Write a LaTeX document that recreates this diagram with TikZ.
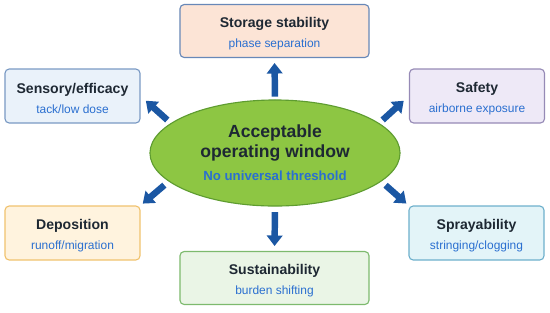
\documentclass[tikz,border=0pt]{standalone}
\usepackage{fontspec}
\setmainfont{Liberation Sans}
\usetikzlibrary{shapes.geometric, arrows.meta}

\definecolor{arrowblue}{HTML}{1B57A3}
\definecolor{titlecol}{HTML}{1E2833}
\definecolor{subcol}{HTML}{2A6FD0}
\definecolor{wingreen}{HTML}{8DC643}
\definecolor{winedge}{HTML}{5E9C30}

\newcommand{\subline}[1]{{\fontsize{8.5}{10}\selectfont\mdseries\color{subcol}#1}}

\begin{document}
\begin{tikzpicture}[x=0.025cm, y=-0.025cm,
    box/.style={draw, rounded corners=3pt, line width=0.8pt, align=center,
      text=titlecol, font=\fontsize{10}{12}\selectfont\bfseries},
    widebox/.style={box, minimum width=4.725cm, minimum height=1.325cm},
    sidebox/.style={box, minimum width=3.375cm, minimum height=1.35cm},
    arr/.style={draw=arrowblue, line width=4.6pt, -{Triangle[width=11pt,length=7.5pt]}}]
  \useasboundingbox (0,0) rectangle (550,312);

  % centre
  \node[ellipse, fill=wingreen, draw=winedge, line width=0.8pt,
    minimum width=6.25cm, minimum height=2.65cm, align=center, text=titlecol,
    font=\fontsize{12.5}{14.2}\selectfont\bfseries] (win) at (275,153)
    {Acceptable\\operating window\\[2.2pt]{\fontsize{9.4}{11}\selectfont\color{subcol}No universal threshold}};

  % outcomes
  \node[widebox, fill={rgb,255:red,252;green,228;blue,214}, draw={rgb,255:red,104;green,136;blue,184}] (stor) at (274.5,31)
    {\rule{0pt}{11pt}Storage stability\\[2.2pt]\subline{phase separation}};
  \node[sidebox, fill={rgb,255:red,234;green,242;blue,250}, draw={rgb,255:red,122;green,154;blue,196}] (sens) at (72.5,96)
    {\rule{0pt}{11pt}Sensory/efficacy\\[2.2pt]\subline{tack/low dose}};
  \node[sidebox, fill={rgb,255:red,238;green,233;blue,247}, draw={rgb,255:red,150;green,138;blue,182}] (safe) at (477,96)
    {\rule{0pt}{11pt}Safety\\[2.2pt]\subline{airborne exposure}};
  \node[sidebox, fill={rgb,255:red,255;green,243;blue,222}, draw={rgb,255:red,240;green,194;blue,110}] (dep) at (72.5,233)
    {\rule{0pt}{11pt}Deposition\\[2.2pt]\subline{runoff/migration}};
  \node[sidebox, fill={rgb,255:red,227;green,244;blue,248}, draw={rgb,255:red,110;green,176;blue,204}] (spray) at (476.5,233)
    {\rule{0pt}{11pt}Sprayability\\[2.2pt]\subline{stringing/clogging}};
  \node[widebox, fill={rgb,255:red,234;green,245;blue,230}, draw={rgb,255:red,125;green,186;blue,110}] (sus) at (274.5,278)
    {\rule{0pt}{11pt}Sustainability\\[2.2pt]\subline{burden shifting}};

  % arrows
  \draw[arr, shorten <=2pt, shorten >=3.5pt] (win.north) -- (stor.south);
  \draw[arr, shorten <=4pt, shorten >=3.5pt] (win.south) -- (sus.north);
  \draw[arr, shorten <=3.3pt, shorten >=5pt] (win.164) -- (sens.east);
  \draw[arr, shorten <=3.3pt, shorten >=5pt] (win.16) -- (safe.west);
  \draw[arr, shorten <=4pt, shorten >=2pt] (win.195) -- (dep.north east);
  \draw[arr, shorten <=4pt, shorten >=2pt] (win.-15) -- (spray.north west);
\end{tikzpicture}
\end{document}
